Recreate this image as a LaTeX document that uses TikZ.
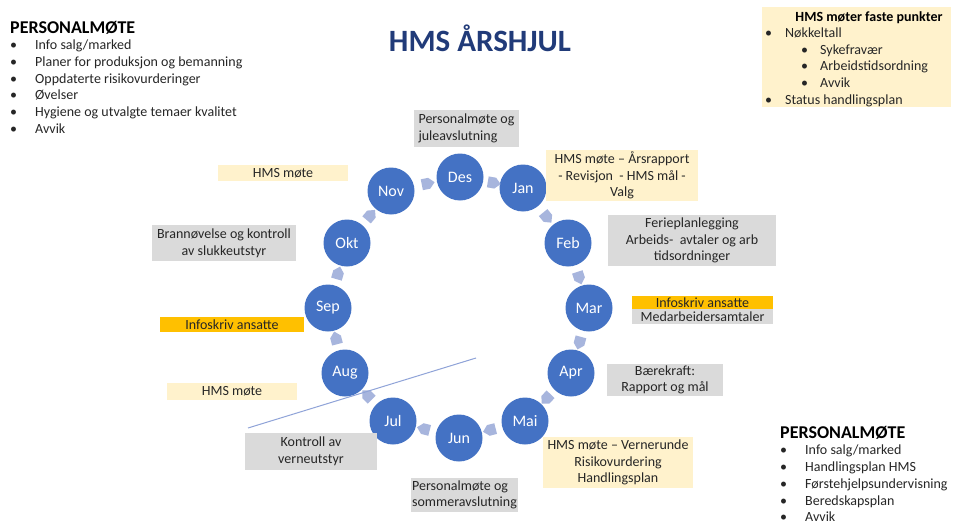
\documentclass[tikz,border=0pt]{standalone}
\usepackage{fontspec}
\setmainfont{Carlito}
\usetikzlibrary{shapes.arrows}
\definecolor{cblue}{HTML}{4472C4}
\definecolor{lgray}{HTML}{DADADA}
\definecolor{cream}{HTML}{FFF2CC}
\definecolor{orangey}{HTML}{FFC000}
\definecolor{arrc}{HTML}{A7B5DD}
\definecolor{titlec}{HTML}{213B79}
\definecolor{linec}{HTML}{8FA3D8}
\definecolor{txt}{HTML}{262626}
\newcommand{\lstfont}{\fontsize{14}{16.7}\selectfont}
\begin{document}
\begin{tikzpicture}[x=1pt,y=-1pt,
  month/.style={circle, fill=cblue, text=white, minimum size=47pt, inner sep=0pt, font=\fontsize{16}{18}\selectfont},
  lblbox/.style={inner sep=0pt, align=center, text=txt, font=\fontsize{14}{16.6}\selectfont},
  graybox/.style={lblbox, fill=lgray},
  creambox/.style={lblbox, fill=cream},
  orangebox/.style={lblbox, fill=orangey},
  ringarrow/.style={single arrow, fill=arrc, minimum height=13pt, minimum width=11pt, single arrow head extend=0pt, inner sep=0pt, sloped, allow upside down},
  listnode/.style={anchor=north west, inner sep=0pt, text=txt, font=\lstfont},
]
\fill[white] (0,0) rectangle (957,524);
\useasboundingbox (0,0) rectangle (957,524);

% title
\node[anchor=base, inner sep=0pt, text=titlec, font=\fontsize{31}{36}\selectfont\bfseries] (title) at (480,52) {HMS ÅRSHJUL};

% top-left list
\node[listnode] (plistA) at (10,20.6) {%
\begin{tabular}{@{}p{25pt}@{}l@{}}
\multicolumn{2}{@{}l@{}}{\fontsize{18}{16.7}\selectfont\bfseries\color{black} PERSONALMØTE}\\
•&Info salg/marked\\
•&Planer for produksjon og bemanning\\
•&Oppdaterte risikovurderinger\\
•&Øvelser\\
•&Hygiene og utvalgte temaer kvalitet\\
•&Avvik
\end{tabular}};

% top-right box
\fill[cream] (762,7) rectangle (951,107);
\node[anchor=base, inner sep=0pt, text=black, font=\fontsize{14}{16.7}\selectfont\bfseries] (hmstitle) at (869,21.5) {HMS møter faste punkter};
\node[listnode] (hmslist) at (765,25.6) {%
\begin{tabular}{@{}p{20pt}@{}p{16pt}@{}p{19pt}@{}l@{}}
•&\multicolumn{3}{@{}l@{}}{Nøkkeltall}\\
&&•&Sykefravær\\
&&•&Arbeidstidsordning\\
&&•&Avvik\\
•&\multicolumn{3}{@{}l@{}}{Status handlingsplan}
\end{tabular}};

% bottom-right list
\node[listnode] (plistB) at (780,425.8) {%
\begin{tabular}{@{}p{25pt}@{}l@{}}
\multicolumn{2}{@{}l@{}}{\fontsize{18}{16.7}\selectfont\bfseries\color{black} PERSONALMØTE}\\
•&Info salg/marked\\
•&Handlingsplan  HMS\\
•&Førstehjelpsundervisning\\
•&Beredskapsplan\\
•&Avvik
\end{tabular}};

% month circles
\node[month] (des) at (460,177) {Des};
\node[month] (jan) at (523,188) {Jan};
\node[month] (feb) at (568,243) {Feb};
\node[month] (mar) at (589,308) {Mar};
\node[month] (apr) at (571,373) {Apr};
\node[month] (mai) at (525,421) {Mai};
\node[month] (jun) at (459,438) {Jun};
\node[month] (jul) at (393,421) {Jul};
\node[month] (aug) at (345,373) {Aug};
\node[month] (sep) at (328,308) {Sep};
\node[month] (okt) at (347,243) {Okt};
\node[month] (nov) at (391,191) {Nov};

% ring arrows
\foreach \a/\b in {nov/des, des/jan, jan/feb, feb/mar, mar/apr, apr/mai, mai/jun, jun/jul, jul/aug, aug/sep, sep/okt, okt/nov}
  \path (\a) -- node[ringarrow]{} (\b);

% diagonal line
\coordinate (lineA) at (248,428);
\coordinate (lineB) at (476,358);
\draw[linec, line width=1pt] (lineA) -- (lineB);

% labels
\node[graybox, minimum width=105pt, minimum height=37pt, align=left] (ldes) at (466.5,128.5) {Personalmøte og\\juleavslutning};
\node[creambox, minimum width=152pt, minimum height=51pt] (ljan) at (622,175.5) {HMS møte – Årsrapport\\- Revisjon\ \ - HMS mål -\\Valg};
\node[graybox, minimum width=168pt, minimum height=51pt] (lfeb) at (692,240.5) {Ferieplanlegging\\Arbeids-\ \ avtaler og arb\\tidsordninger};
\node[orangebox, minimum width=141pt, minimum height=13pt] (lmarA) at (702.5,302.5) {Infoskriv ansatte};
\node[graybox, minimum width=141pt, minimum height=15pt] (lmarB) at (702.5,316.5) {Medarbeidersamtaler};
\node[graybox, minimum width=116pt, minimum height=32pt] (lapr) at (665,380) {Bærekraft:\\Rapport og mål};
\node[creambox, minimum width=150pt, minimum height=51pt] (lmai) at (618,462.5) {HMS møte – Vernerunde\\Risikovurdering\\Handlingsplan};
\node[graybox, minimum width=107pt, minimum height=34pt, align=left] (ljun) at (464.5,495) {Personalmøte og\\sommeravslutning};
\node[graybox, minimum width=132pt, minimum height=37pt] (ljul) at (311,451.5) {Kontroll av\\verneutstyr};
\node[creambox, minimum width=130pt, minimum height=17pt] (laug) at (232,391.5) {HMS møte};
\node[orangebox, minimum width=144pt, minimum height=15pt] (lsep) at (232,324.5) {Infoskriv ansatte};
\node[graybox, minimum width=144pt, minimum height=36pt] (lokt) at (224,243) {Brannøvelse og kontroll\\av slukkeutstyr};
\node[creambox, minimum width=130pt, minimum height=16pt] (lnov) at (283,173) {HMS møte};
\end{tikzpicture}
\end{document}
